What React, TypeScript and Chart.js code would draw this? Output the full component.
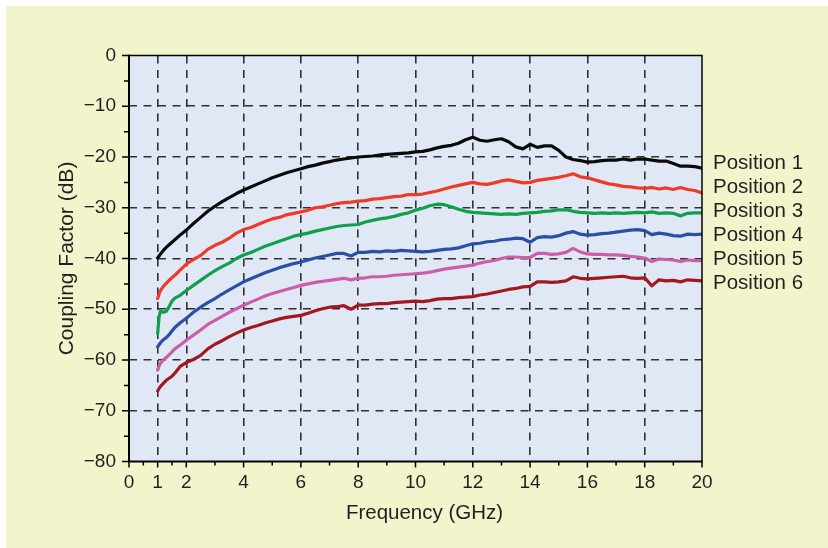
import React, { useEffect, useRef } from "react";
import { Chart, registerables } from "chart.js";

Chart.register(...registerables);

const FREQ = [
  1, 1.05, 1.1, 1.2, 1.3, 1.4, 1.5, 1.6, 1.8,
  2, 2.25, 2.5, 2.75, 3, 3.25, 3.5, 3.75,
  4, 4.25, 4.5, 4.75, 5, 5.25, 5.5, 5.75,
  6, 6.25, 6.5, 6.75, 7, 7.25, 7.5, 7.75,
  8, 8.25, 8.5, 8.75, 9, 9.25, 9.5, 9.75,
  10, 10.25, 10.5, 10.75, 11, 11.25, 11.5, 11.75,
  12, 12.25, 12.5, 12.75, 13, 13.25, 13.5, 13.75,
  14, 14.25, 14.5, 14.75, 15, 15.25, 15.5, 15.75,
  16, 16.25, 16.5, 16.75, 17, 17.25, 17.5, 17.75,
  18, 18.25, 18.5, 18.75, 19, 19.25, 19.5, 19.75,
  20,
];

const POS1 = [
  -39.9, -39.5, -39.1, -38.4, -37.8, -37.3, -36.8, -36.3, -35.3,
  -34.4, -33.1, -31.9, -30.7, -29.7, -28.8, -28.0, -27.2,
  -26.5, -25.9, -25.3, -24.7, -24.1, -23.6, -23.1, -22.7,
  -22.3, -21.9, -21.6, -21.2, -20.9, -20.6, -20.4, -20.2,
  -20.0, -19.9, -19.8, -19.6, -19.5, -19.4, -19.3, -19.2,
  -19.0, -18.9, -18.6, -18.2, -17.9, -17.7, -17.3, -16.6,
  -16.1, -16.7, -16.9, -16.6, -16.4, -17.0, -18.0, -18.4,
  -17.5, -18.1, -17.8, -17.8, -18.7, -20.0, -20.5, -20.7,
  -21.0, -20.9, -20.7, -20.6, -20.6, -20.4, -20.6, -20.4,
  -20.4, -20.6, -20.8, -20.8, -21.3, -21.8, -21.8, -21.9,
  -22.2,
];

const POS2 = [
  -47.9, -47.0, -46.3, -45.5, -44.9, -44.3, -43.8, -43.3, -42.2,
  -41.1, -40.2, -39.4, -38.2, -37.4, -36.8, -36.0, -35.0,
  -34.3, -33.9, -33.3, -32.7, -32.2, -31.9, -31.4, -31.1,
  -30.8, -30.5, -30.0, -29.8, -29.5, -29.2, -29.0, -28.9,
  -28.7, -28.6, -28.3, -28.2, -28.0, -27.8, -27.7, -27.4,
  -27.4, -27.3, -27.0, -26.7, -26.3, -25.9, -25.6, -25.3,
  -25.0, -25.3, -25.4, -25.1, -24.7, -24.5, -24.8, -25.1,
  -25.0, -24.6, -24.4, -24.2, -24.0, -23.7, -23.3, -23.9,
  -24.1, -24.5, -24.9, -25.3, -25.5, -25.8, -25.9, -26.1,
  -26.2, -26.0, -26.3, -26.1, -26.4, -26.0, -26.4, -26.6,
  -27.1,
];

const POS3 = [
  -54.8, -51.5, -50.3, -50.6, -50.4, -49.5, -48.4, -47.8, -47.2,
  -46.3, -45.3, -44.3, -43.3, -42.4, -41.6, -40.9, -40.0,
  -39.3, -38.8, -38.2, -37.6, -37.1, -36.6, -36.1, -35.6,
  -35.3, -35.0, -34.6, -34.3, -34.0, -33.7, -33.5, -33.4,
  -33.3, -32.8, -32.5, -32.2, -32.0, -31.7, -31.3, -31.0,
  -30.5, -30.1, -29.6, -29.3, -29.4, -29.8, -30.3, -30.7,
  -30.9, -31.0, -31.1, -31.2, -31.3, -31.2, -31.3, -31.1,
  -31.0, -30.9, -30.7, -30.6, -30.4, -30.4, -30.7, -30.9,
  -31.0, -31.1, -31.0, -31.1, -31.0, -31.1, -31.0, -30.9,
  -31.0, -30.8, -31.1, -31.0, -31.1, -31.6, -31.1, -31.0,
  -31.0,
];

const POS4 = [
  -57.4, -57.0, -56.6, -56.0, -55.6, -55.0, -54.3, -53.6, -52.6,
  -51.8, -50.6, -49.6, -48.7, -47.9, -47.0, -46.2, -45.4,
  -44.6, -44.0, -43.4, -42.8, -42.3, -41.8, -41.4, -41.0,
  -40.7, -40.3, -39.9, -39.6, -39.3, -39.0, -39.0, -39.5,
  -38.8, -38.8, -38.6, -38.7, -38.5, -38.6, -38.4, -38.5,
  -38.6, -38.7, -38.6, -38.4, -38.2, -38.1, -37.9, -37.5,
  -37.1, -37.0, -36.7, -36.6, -36.3, -36.2, -36.0, -36.1,
  -36.8, -35.9, -35.7, -35.8, -35.5, -35.0, -34.7, -35.2,
  -35.4, -35.3, -35.1, -35.0, -34.8, -34.6, -34.4, -34.3,
  -34.5, -35.3, -35.0, -35.2, -35.5, -35.6, -35.2, -35.3,
  -35.2,
];

const POS5 = [
  -62.0, -61.2, -60.6, -60.0, -59.5, -59.0, -58.4, -57.8, -57.0,
  -56.1, -55.1, -54.1, -53.0, -52.2, -51.4, -50.6, -49.9,
  -49.2, -48.6, -48.0, -47.4, -46.9, -46.5, -46.1, -45.7,
  -45.3, -45.0, -44.7, -44.5, -44.3, -44.1, -43.9, -44.2,
  -43.9, -43.8, -43.6, -43.6, -43.5, -43.3, -43.2, -43.1,
  -43.0, -42.9, -42.7, -42.4, -42.1, -41.9, -41.7, -41.5,
  -41.3, -40.9, -40.6, -40.4, -40.0, -39.7, -39.7, -39.8,
  -39.8, -39.0, -39.0, -39.2, -39.1, -38.8, -38.0, -38.7,
  -39.1, -39.2, -39.2, -39.3, -39.3, -39.4, -39.6, -39.7,
  -39.9, -40.6, -40.1, -40.2, -40.3, -40.6, -40.3, -40.4,
  -40.4,
];

const POS6 = [
  -66.1, -65.6, -65.2, -64.6, -64.0, -63.6, -63.2, -62.6, -61.2,
  -60.5, -59.9, -59.1, -57.8, -56.9, -56.2, -55.4, -54.7,
  -54.1, -53.6, -53.2, -52.7, -52.3, -51.9, -51.6, -51.4,
  -51.2, -50.8, -50.3, -49.9, -49.6, -49.5, -49.3, -50.0,
  -49.2, -49.2, -49.0, -48.9, -48.9, -48.7, -48.6, -48.5,
  -48.4, -48.5, -48.3, -48.0, -47.9, -47.9, -47.7, -47.6,
  -47.5, -47.2, -47.0, -46.7, -46.4, -46.1, -45.9, -45.6,
  -45.5, -44.6, -44.6, -44.7, -44.6, -44.4, -43.6, -43.9,
  -44.0, -43.9, -43.8, -43.7, -43.6, -43.5, -43.8, -43.9,
  -43.8, -45.4, -44.2, -44.4, -44.3, -44.6, -44.2, -44.3,
  -44.4,
];

const SERIES_NAMES = ["Position 1", "Position 2", "Position 3", "Position 4", "Position 5", "Position 6"];
const SERIES_VALUES = [POS1, POS2, POS3, POS4, POS5, POS6];
const SERIES_COLORS = ["#0a0a0a", "#ee3a27", "#0ea04e", "#2b4fa6", "#cc5ea9", "#a3181f"];

const X_TICKS = [0, 0.5, 1, 1.5, 2, 3, 4, 5, 6, 7, 8, 9, 10, 11, 12, 13, 14, 15, 16, 17, 18, 19, 20];
const X_LABELED = [0, 1, 2, 4, 6, 8, 10, 12, 14, 16, 18, 20];
const Y_TICKS = [-80, -75, -70, -65, -60, -55, -50, -45, -40, -35, -30, -25, -20, -15, -10, -5, 0];
const Y_LABELED = [-80, -70, -60, -50, -40, -30, -20, -10, 0];

const X_TITLE = "Frequency (GHz)";
const Y_TITLE = "Coupling Factor (dB)";

const FONT = "'Liberation Sans', Arial, Helvetica, sans-serif";
const TEXT_COLOR = "#231f20";
const PLOT_BG = "#e0e8f6";
const PAGE_BG = "#f2f4cc";
const GRID_COLOR = "#303030";

const fmt = (v: number) => (v < 0 ? "\u2212" + Math.abs(v) : String(v));

const decorPlugin = {
  id: "decor",
  beforeDraw(chart: any) {
    const { ctx, chartArea: a } = chart;
    ctx.save();
    ctx.fillStyle = PLOT_BG;
    ctx.fillRect(a.left, a.top, a.right - a.left, a.bottom - a.top);
    ctx.restore();
  },
  afterDraw(chart: any) {
    const { ctx, chartArea: a, scales } = chart;
    ctx.save();
    // frame
    ctx.strokeStyle = "#000";
    ctx.lineWidth = 1.5;
    ctx.beginPath();
    ctx.moveTo(a.left, a.top);
    ctx.lineTo(a.right, a.top);
    ctx.lineTo(a.right, a.bottom);
    ctx.stroke();
    ctx.lineWidth = 2;
    ctx.beginPath();
    ctx.moveTo(a.left, a.top - 0.75);
    ctx.lineTo(a.left, a.bottom);
    ctx.lineTo(a.right + 0.75, a.bottom);
    ctx.stroke();
    // tick marks
    ctx.lineWidth = 1.5;
    ctx.beginPath();
    X_TICKS.forEach((v) => {
      const px = scales.x.getPixelForValue(v);
      const len = X_LABELED.includes(v) ? 6 : 4;
      ctx.moveTo(px, a.bottom);
      ctx.lineTo(px, a.bottom + len);
    });
    Y_TICKS.forEach((v) => {
      const py = scales.y.getPixelForValue(v);
      const len = Y_LABELED.includes(v) ? 7 : 5;
      ctx.moveTo(a.left, py);
      ctx.lineTo(a.left - len, py);
    });
    ctx.stroke();

    // axis titles
    ctx.fillStyle = TEXT_COLOR;
    ctx.textBaseline = "alphabetic";
    ctx.textAlign = "center";
    ctx.font = `20.5px ${FONT}`;
    ctx.fillText(X_TITLE, (a.left + a.right) / 2 + 9, a.bottom + 57);
    ctx.save();
    ctx.translate(a.left - 62, (a.top + a.bottom) / 2);
    ctx.rotate(-Math.PI / 2);
    ctx.font = `21px ${FONT}`;
    ctx.textBaseline = "middle";
    ctx.fillText(Y_TITLE, 0, 0);
    ctx.restore();

    // series labels
    ctx.textAlign = "left";
    ctx.textBaseline = "alphabetic";
    ctx.font = `20.5px ${FONT}`;
    SERIES_NAMES.forEach((name, i) => {
      ctx.fillText(name, a.right + 11, a.top + 113 + i * 24);
    });
    ctx.restore();
  },
};

export default function App() {
  const canvasRef = useRef<HTMLCanvasElement | null>(null);

  useEffect(() => {
    if (!canvasRef.current) return;
    const datasets = SERIES_NAMES.map((name, i) => ({
      label: name,
      data: FREQ.map((f, j) => ({ x: f, y: SERIES_VALUES[i][j] })),
      borderColor: SERIES_COLORS[i],
      backgroundColor: SERIES_COLORS[i],
      borderWidth: 3.2,
      borderJoinStyle: "round" as const,
      borderCapStyle: "round" as const,
      pointRadius: 0,
      tension: 0,
      fill: false,
    }));

    const chart = new Chart(canvasRef.current, {
      type: "line",
      data: { datasets },
      plugins: [decorPlugin],
      options: {
        animation: false,
        responsive: false,
        devicePixelRatio: 1,
        layout: { padding: { left: 0, top: 49.5, right: 126, bottom: 0 } },
        plugins: {
          legend: { display: false },
          tooltip: { enabled: false },
          title: { display: false },
        },
        scales: {
          x: {
            type: "linear",
            min: 0,
            max: 20,
            afterBuildTicks: (scale: any) => {
              scale.ticks = X_TICKS.map((v) => ({ value: v }));
            },
            afterFit: (scale: any) => {
              scale.height = 86.5;
            },
            ticks: {
              autoSkip: false,
              maxRotation: 0,
              padding: 10,
              color: TEXT_COLOR,
              font: { family: FONT, size: 19 },
              callback: (v: any) => (X_LABELED.includes(Number(v)) ? fmt(Number(v)) : ""),
            },
            grid: {
              drawTicks: false,
              lineWidth: 1.6,
              color: (ctx: any) => {
                const v = ctx.tick ? ctx.tick.value : null;
                return v !== null && X_LABELED.includes(v) && v !== 0 && v !== 20 ? GRID_COLOR : "rgba(0,0,0,0)";
              },
            },
            border: { display: false, dash: [8, 6.5] },
          },
          y: {
            type: "linear",
            min: -80,
            max: 0,
            afterBuildTicks: (scale: any) => {
              scale.ticks = Y_TICKS.map((v) => ({ value: v }));
            },
            afterFit: (scale: any) => {
              scale.width = 123;
            },
            ticks: {
              autoSkip: false,
              padding: 13,
              color: TEXT_COLOR,
              font: { family: FONT, size: 19 },
              callback: (v: any) => (Y_LABELED.includes(Number(v)) ? fmt(Number(v)) : ""),
            },
            grid: {
              drawTicks: false,
              lineWidth: 1.6,
              color: (ctx: any) => {
                const v = ctx.tick ? ctx.tick.value : null;
                return v !== null && Y_LABELED.includes(v) && v !== 0 && v !== -80 ? GRID_COLOR : "rgba(0,0,0,0)";
              },
            },
            border: { display: false, dash: [8, 6.5] },
          },
        },
      },
    });
    return () => chart.destroy();
  }, []);

  return (
    <div
      style={{
        position: "absolute",
        left: 6,
        top: 6,
        width: 822,
        height: 542,
        background: PAGE_BG,
      }}
    >
      <canvas ref={canvasRef} width={822} height={542} style={{ display: "block" }} />
    </div>
  );
}
